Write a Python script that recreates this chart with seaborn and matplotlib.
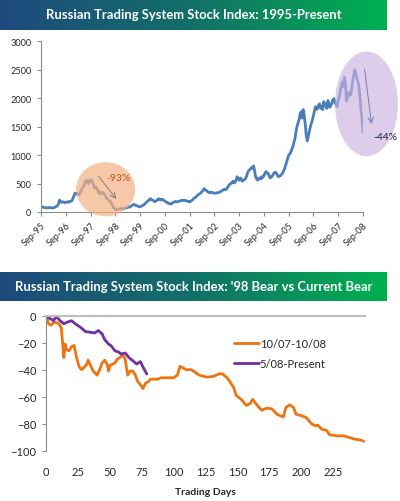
import numpy as np
import pandas as pd
import matplotlib
matplotlib.use('Agg')
import matplotlib.pyplot as plt
from matplotlib.patches import Ellipse
from matplotlib.colors import LinearSegmentedColormap
import seaborn as sns

# ---------------- data ----------------
# Russian Trading System index, twice a month, Sep-95 .. Sep-08
rts_values = [
    # 1995 Sep-Dec
    100, 92, 85, 80, 75, 78, 70, 74,
    # 1996
    80, 76, 75, 72, 70, 80, 90, 100, 110, 150, 210, 175,
    170, 180, 175, 165, 170, 175, 180, 172, 185, 190, 200, 240,
    # 1997
    290, 330, 330, 310, 320, 300, 340, 380, 420, 450, 480, 540,
    560, 520, 500, 560, 540, 570, 520, 470, 420, 440, 410, 380,
    # 1998
    340, 320, 350, 330, 340, 320, 300, 260, 230, 220, 200, 190,
    160, 130, 90, 60, 50, 40, 45, 50, 55, 62, 60, 58,
    # 1999
    60, 66, 70, 75, 80, 85, 90, 100, 110, 125, 135, 125,
    115, 110, 100, 95, 90, 100, 110, 120, 130, 150, 170, 185,
    # 2000
    200, 215, 235, 220, 210, 200, 180, 190, 200, 215, 235, 220,
    210, 225, 220, 205, 190, 180, 170, 160, 150, 145, 140, 155,
    # 2001
    170, 175, 185, 178, 180, 185, 190, 195, 205, 200, 210, 205,
    200, 195, 190, 185, 175, 190, 200, 215, 240, 250, 260, 280,
    # 2002
    300, 310, 320, 340, 360, 380, 410, 390, 380, 365, 350, 345,
    335, 345, 345, 335, 330, 330, 335, 340, 340, 350, 360, 370,
    # 2003
    380, 395, 400, 390, 410, 440, 470, 490, 500, 520, 540, 510,
    520, 560, 620, 580, 560, 600, 580, 540, 560, 570, 580, 620,
    # 2004
    680, 720, 740, 760, 780, 770, 810, 720, 620, 580, 560, 590,
    600, 580, 620, 610, 640, 680, 710, 690, 680, 640, 600, 610,
    # 2005
    630, 660, 690, 700, 680, 650, 620, 630, 640, 660, 680, 720,
    760, 820, 880, 940, 1000, 1020, 1050, 1100, 1150, 1220, 1280, 1400,
    # 2006
    1500, 1560, 1620, 1720, 1760, 1650, 1800, 1700, 1550, 1350, 1250, 1330,
    1420, 1500, 1560, 1620, 1700, 1780, 1850, 1800, 1820, 1880, 1900, 1820,
    # 2007
    1860, 1800, 1940, 1880, 1900, 1820, 1960, 1900, 1840, 1880, 1920, 1980,
    1990, 1920, 1880, 1850, 1960, 2020, 2120, 2220, 2280, 2200, 2370, 2250,
    # 2008 Jan-Sep
    1950, 2020, 2100, 2050, 2060, 2160, 2300, 2400, 2500, 2430, 2350, 2300,
    2200, 2050, 1800, 1650, 1400,
]
year_labels = ['Sep-95', 'Sep-96', 'Sep-97', 'Sep-98', 'Sep-99', 'Sep-00', 'Sep-01',
               'Sep-02', 'Sep-03', 'Sep-04', 'Sep-05', 'Sep-06', 'Sep-07', 'Sep-08']
top_yticks = [0, 500, 1000, 1500, 2000, 2500, 3000]

bear98_days = [0, 2, 4, 6, 8, 10, 12, 13, 14, 15, 16, 18, 20, 22, 24, 26, 28, 30, 32, 33,
               35, 37, 39, 40, 42, 44, 46, 48, 49, 50, 52, 54, 56, 58, 60, 62, 64, 66, 68,
               70, 72, 74, 76, 78, 80, 82, 85, 88, 90, 95, 100, 103, 105, 108, 110, 114,
               117, 120, 126, 131, 136, 138, 142, 147, 149, 153, 157, 160, 162, 166, 169,
               173, 177, 181, 186, 188, 191, 194, 196, 200, 204, 208, 211, 213, 216, 220,
               222, 228, 233, 237, 242, 246, 249]
bear98_pct = [0, -6, -7, -5, -5, -6, -9, -20, -31, -21, -25, -26, -23, -22, -31, -38, -40,
              -38, -36, -33, -37, -41, -43, -44, -40, -35, -33, -36, -41, -37, -36, -35,
              -32, -31, -29, -32, -44, -41, -41, -44, -49, -51, -54, -50, -49, -47, -47,
              -47, -46, -46, -46, -44, -37.5, -39, -40, -40, -42, -44, -45.5, -45, -43,
              -43, -46, -53, -59, -62, -66.5, -65, -62, -67, -70, -68.5, -69, -73, -75,
              -68, -66, -68, -73, -74, -75.5, -80, -81.5, -81, -84, -85, -88, -89, -89,
              -90, -91.5, -92, -93]

bear08_days = [0, 3, 6, 8, 11, 14, 16, 20, 23, 27, 31, 35, 38, 41, 44, 46, 49, 51, 54,
               57, 59, 62, 65, 68, 71, 74, 76, 79]
bear08_pct = [-0.5, -2, -3.7, -0.5, -3.7, -6, -5, -3.7, -6, -8.6, -11.8, -12.3, -12.8,
              -11, -13.5, -17.7, -21, -22.2, -26, -27, -28.4, -27.6, -31, -33.3, -35.8,
              -34, -38, -43.2]
legend_labels = ['10/07-10/08', '5/08-Present']
bottom_yticks = [0, -20, -40, -60, -80, -100]
bottom_xticks = [0, 25, 50, 75, 100, 125, 150, 175, 200, 225]

titles = ['Russian Trading System Stock Index: 1995-Present',
          "Russian Trading System Stock Index: '98 Bear vs Current Bear"]

# ---------------- style ----------------
sns.set_style('white')
plt.rcParams['font.family'] = ['Lato', 'DejaVu Sans']

W, H = 400, 502
fig = plt.figure(figsize=(W / 100, H / 100), dpi=100)

def fx(px):
    return px / W

def fy(py):
    return 1 - py / H

blue = '#4a7ebb'
orange = '#ee7411'
purple = '#7030a0'
axis_gray = '#8c8c8c'
text_col = '#262626'

# ---------------- banners ----------------
cmap = LinearSegmentedColormap.from_list('ban', ['#1f497d', '#127068', '#00b050'])
grad = np.linspace(0, 1, 256).reshape(1, -1)
for (top, bot), title in zip([(0, 31), (272.5, 301.5)], titles):
    bax = fig.add_axes([0, fy(bot), fx(387), (bot - top) / H])
    bax.imshow(grad, aspect='auto', cmap=cmap, extent=[0, 1, 0, 1])
    bax.set_axis_off()
    bax.text(0.5, 0.5, title, color='white', fontsize=9.4, fontweight='bold',
             ha='center', va='center', transform=bax.transAxes)

# ---------------- top chart ----------------
ax1 = fig.add_axes([fx(41), fy(213), fx(363) - fx(41), fy(42.3) - fy(213)])
halfmonths = np.arange(len(rts_values))
df_top = pd.DataFrame({'t': halfmonths, 'value': rts_values})
sns.lineplot(data=df_top, x='t', y='value', ax=ax1, color=blue, linewidth=2.0)
ax1.set_xlim(0, 312)
ax1.set_ylim(0, 3000)
ax1.set_yticks(top_yticks)
ax1.set_xticks(np.arange(0, 313, 24))
ax1.set_xticklabels(year_labels)
ax1.set_xlabel('')
ax1.set_ylabel('')
for s in ['top', 'right']:
    ax1.spines[s].set_visible(False)
for s in ['left', 'bottom']:
    ax1.spines[s].set_color(axis_gray)
    ax1.spines[s].set_linewidth(0.8)
ax1.tick_params(axis='both', which='both', direction='out', length=3, width=0.8,
                color=axis_gray, labelsize=6.6, labelcolor=text_col, left=True, bottom=True)
ax1.tick_params(axis='y', pad=4)
ax1.tick_params(axis='x', pad=3)
plt.setp(ax1.get_xticklabels(), rotation=45, ha='right', rotation_mode='anchor')

# annotations (x in half-month units)
e1 = Ellipse((62.6, 400), width=57.2, height=950, facecolor='#f4b183', alpha=0.7,
             edgecolor='none', clip_on=False, zorder=5)
ax1.add_patch(e1)
ax1.annotate('', xy=(74.6, 190), xytext=(54.0, 670),
             arrowprops=dict(arrowstyle='->', color='#7f7f7f', lw=0.7), zorder=6)
ax1.text(63, 600, '-93%', fontsize=7.5, color='#b4541b', ha='left', va='center', zorder=7)

e2 = Ellipse((315.4, 1900), width=61, height=1840, facecolor='#ccb3e0', alpha=0.65,
             edgecolor='none', clip_on=False, zorder=5)
ax1.add_patch(e2)
ax1.annotate('', xy=(320.6, 1500), xytext=(313.2, 2560),
             arrowprops=dict(arrowstyle='->', color='#6d7fb8', lw=0.7),
             annotation_clip=False, zorder=6)
ax1.text(321.6, 1330, '-44%', fontsize=7.5, color='#1f1f3f', ha='left', va='center',
         zorder=7, clip_on=False)

# ---------------- bottom chart ----------------
ax2 = fig.add_axes([fx(46), fy(451.7), fx(365) - fx(46), fy(316.7) - fy(451.7)])
df98 = pd.DataFrame({'day': bear98_days, 'pct': bear98_pct, 'series': legend_labels[0]})
df08 = pd.DataFrame({'day': bear08_days, 'pct': bear08_pct, 'series': legend_labels[1]})
df_b = pd.concat([df98, df08], ignore_index=True)
sns.lineplot(data=df_b, x='day', y='pct', hue='series', ax=ax2,
             palette={legend_labels[0]: orange, legend_labels[1]: purple},
             linewidth=2.0, sort=False)
ax2.set_xlim(0, 250)
ax2.set_ylim(-100, 0)
ax2.set_yticks(bottom_yticks)
ax2.set_xticks(bottom_xticks)
ax2.set_xlabel('')
ax2.set_ylabel('')
ax2.spines['right'].set_visible(False)
ax2.spines['bottom'].set_visible(False)
ax2.spines['top'].set_color('#bfbfbf')
ax2.spines['top'].set_linewidth(1.6)
ax2.spines['left'].set_color(axis_gray)
ax2.spines['left'].set_linewidth(0.8)
ax2.tick_params(axis='y', direction='out', length=3, width=0.8, color=axis_gray,
                labelsize=8, labelcolor=text_col, left=True, pad=4)
ax2.tick_params(axis='x', length=0, labelsize=8, labelcolor=text_col, pad=11)

leg = ax2.legend(loc='upper left', bbox_to_anchor=(0.574, 0.865), frameon=False,
                 fontsize=8, handlelength=2.3, handletextpad=0.05, labelspacing=0.75,
                 borderaxespad=0)
for t in leg.get_texts():
    t.set_color(text_col)

fig.text(fx(205), fy(493), 'Trading Days', fontsize=7.5, fontweight='bold',
         color=text_col, ha='center', va='center')

fig.savefig('out.png', dpi=100)
